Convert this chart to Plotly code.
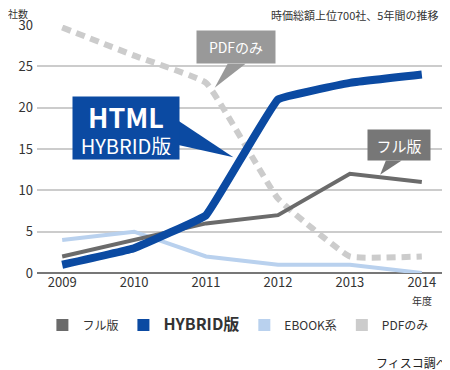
import plotly.graph_objects as go

years = [2009, 2010, 2011, 2012, 2013, 2014]
full_ver = [2, 4, 6, 7, 12, 11]
hybrid = [1, 3, 7, 21, 23, 24]
ebook = [4, 5, 2, 1, 1, 0]
pdf_only = [29.7, 26.3, 23, 9, 2, 2]

names = ["フル版", "HYBRID版", "EBOOK系", "PDFのみ"]
colors = ["#6b6b6b", "#0b4aa2", "#b9d1ee", "#cccccc"]

FONT = "Noto Sans CJK JP"

fig = go.Figure()

fig.add_trace(go.Scatter(x=years, y=ebook, mode="lines", line=dict(color=colors[2], width=4), showlegend=False))
fig.add_trace(go.Scatter(x=years, y=pdf_only, mode="lines", line=dict(color=colors[3], width=6, dash="9px,6px", shape="spline", smoothing=0.3), showlegend=False))
fig.add_trace(go.Scatter(x=years, y=full_ver, mode="lines", line=dict(color=colors[0], width=4), showlegend=False))
fig.add_trace(go.Scatter(x=years, y=hybrid, mode="lines", line=dict(color=colors[1], width=8, shape="spline", smoothing=0.2), showlegend=False))

for n, c in zip(names, colors):
    label = f"<b><span style='font-size:16px'>{n}</span></b>" if n == "HYBRID版" else n
    fig.add_trace(go.Scatter(x=[None], y=[None], mode="markers", name=label,
                             marker=dict(symbol="square", size=15, color=c)))

shapes = [
    dict(type="path", xref="x", yref="y",
         path="M 2011.3,25.3 L 2011.55,25.3 L 2011.12,22.4 Z",
         fillcolor="#999999", line=dict(width=0), layer="above"),
    dict(type="path", xref="x", yref="y",
         path="M 2010.60,18.5 L 2010.60,15.5 L 2011.38,14.0 Z",
         fillcolor="#0b4aa2", line=dict(width=0), layer="above"),
    dict(type="path", xref="x", yref="y",
         path="M 2013.5,13.6 L 2013.72,13.6 L 2013.42,11.9 Z",
         fillcolor="#777777", line=dict(width=0), layer="above"),
]

annotations = [
    dict(x=2011.42, y=27.3, xref="x", yref="y", text="PDFのみ", showarrow=False,
         font=dict(family=FONT, size=14, color="white"), bgcolor="#999999",
         borderpad=6, width=66, height=20),
    dict(x=2009.89, y=17.5, xref="x", yref="y",
         text="<b><span style='font-size:27px'>HTML</span></b><br><span style='font-size:20px'>HYBRID版</span>",
         showarrow=False, font=dict(family=FONT, size=20, color="white"), bgcolor="#0b4aa2",
         borderpad=4, width=98, height=54),
    dict(x=2013.68, y=15.5, xref="x", yref="y", text="フル版", showarrow=False,
         font=dict(family=FONT, size=15, color="white"), bgcolor="#777777",
         borderpad=5, width=52, height=20),
    dict(x=-0.046, y=1.046, xref="paper", yref="paper", text="社数", showarrow=False,
         xanchor="center", yanchor="middle", font=dict(family=FONT, size=10, color="#333")),
    dict(x=0.7756, y=1.04, xref="paper", yref="paper", text="時価総額上位700社、5年間の推移",
         showarrow=False, xanchor="center", yanchor="middle",
         font=dict(family=FONT, size=11, color="#333")),
    dict(x=2014, y=-0.109, xref="x", yref="paper", text="年度", showarrow=False,
         xanchor="center", yanchor="middle", font=dict(family=FONT, size=10, color="#333")),
    dict(x=0.915, y=-0.359, xref="paper", yref="paper", text="フィスコ調べ", showarrow=False,
         xanchor="center", yanchor="middle", font=dict(family=FONT, size=12, color="#222")),
]

# page body adds an 8px offset; figure is sized to compensate
fig.update_layout(
    width=442, height=362,
    margin=dict(l=29, r=3, t=17, b=97),
    paper_bgcolor="white", plot_bgcolor="white",
    font=dict(family=FONT, size=13, color="#333"),
    xaxis=dict(range=[2008.65, 2014.35], tickvals=years, ticktext=[str(y) for y in years],
               showgrid=False, zeroline=False, showline=False, ticks="",
               tickfont=dict(size=13, color="#333"), fixedrange=True),
    yaxis=dict(range=[0, 30], tickvals=[0, 5, 10, 15, 20, 25, 30], showgrid=True,
               gridcolor="#cccccc", gridwidth=1.5, zeroline=True, zerolinecolor="#777777",
               zerolinewidth=2, showline=False, ticks="", ticklabelstandoff=3,
               tickfont=dict(size=13, color="#333"), fixedrange=True),
    legend=dict(orientation="h", x=0.49, xanchor="center", y=-0.21, yanchor="middle",
                font=dict(family=FONT, size=12, color="#333"), itemsizing="constant",
                traceorder="normal", itemclick=False),
    shapes=shapes,
    annotations=annotations,
)

fig.write_html("out.html")
